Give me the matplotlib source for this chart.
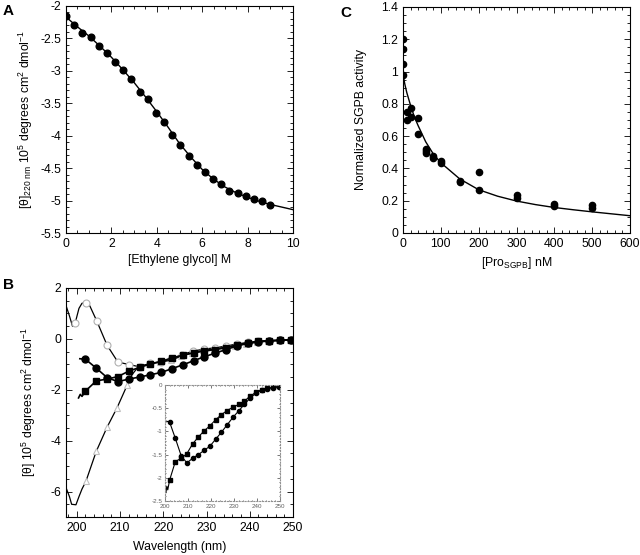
import matplotlib
matplotlib.use("Agg")
import matplotlib.pyplot as plt
from matplotlib.ticker import MultipleLocator, FormatStrFormatter

plt.rcParams['font.family'] = ['Liberation Sans', 'DejaVu Sans']
plt.rcParams['mathtext.fontset'] = 'custom'
plt.rcParams['mathtext.rm'] = 'Liberation Sans'
plt.rcParams['mathtext.it'] = 'Liberation Sans:italic'
plt.rcParams['mathtext.default'] = 'regular'
plt.rcParams['axes.unicode_minus'] = False
plt.rcParams['font.size'] = 8.8

# ---------------- Panel A data ----------------
eg_conc = [0, 0.36, 0.72, 1.08, 1.44, 1.8, 2.16, 2.52, 2.88, 3.24, 3.6, 3.96, 4.32,
           4.68, 5.04, 5.4, 5.76, 6.12, 6.48, 6.84, 7.2, 7.56, 7.92, 8.28, 8.64, 9.0]
theta220 = [-2.15, -2.29, -2.41, -2.48, -2.61, -2.73, -2.86, -2.99, -3.12, -3.32,
            -3.44, -3.65, -3.79, -3.99, -4.15, -4.31, -4.45, -4.56, -4.67, -4.75,
            -4.86, -4.89, -4.93, -4.98, -5.00, -5.07]
eg_fit_x = [0, 0.5, 1, 1.5, 2, 2.5, 3, 3.5, 4, 4.5, 5, 5.5, 6, 6.5, 7, 7.5, 8, 8.5, 9, 9.5, 10]
eg_fit_y = [-2.17, -2.32, -2.46, -2.62, -2.79, -2.98, -3.18, -3.40, -3.63, -3.87, -4.12,
            -4.33, -4.52, -4.67, -4.79, -4.88, -4.95, -5.01, -5.06, -5.10, -5.14]

# ---------------- Panel B data ----------------
# open circles
oc_wl = [197.6, 198.3, 199.0, 199.6, 200.5, 201.2, 202.1, 203.0, 204.6, 207.0, 209.5,
         212.1, 214.6, 216.9, 219.4, 221.8, 224.3, 226.9, 229.4, 232.0, 234.5, 237.0,
         239.5, 242.0, 244.5, 247.0, 249.5]
oc_y = [1.26, 0.90, 0.50, 0.61, 1.20, 1.40, 1.42, 1.30, 0.71, -0.25, -0.91,
        -1.01, -1.10, -0.96, -0.90, -0.80, -0.62, -0.48, -0.40, -0.35, -0.28, -0.20,
        -0.14, -0.09, -0.07, -0.05, -0.03]
oc_marks = [3, 6, 8, 9, 10, 11, 12, 13, 14, 15, 16, 17, 18, 19, 20, 21, 22, 23, 24, 25, 26]
# open triangles
ot_wl = [197.6, 198.3, 198.8, 199.8, 200.5, 201.2, 202.1, 204.5, 207.0, 209.3, 211.7,
         212.8, 214.2, 216.7, 219.2, 221.7, 224.2, 226.7, 229.2, 231.7, 234.2, 236.7,
         239.2, 241.7, 244.2, 246.7, 249.2]
ot_y = [-5.89, -6.20, -6.50, -6.52, -6.20, -5.90, -5.60, -4.42, -3.47, -2.71, -1.80,
        -1.40, -1.10, -0.98, -0.92, -0.84, -0.68, -0.55, -0.45, -0.40, -0.33, -0.26,
        -0.19, -0.13, -0.09, -0.06, -0.04]
ot_marks = [6, 7, 8, 9, 10, 13, 14, 15, 16, 17, 18, 19, 20, 21, 22, 23, 24, 25, 26]
# filled circles
fc_wl = [200.7, 202.0, 204.5, 207.0, 209.5, 212.0, 214.5, 217.0, 219.5, 222.0, 224.5,
         227.0, 229.5, 232.0, 234.5, 237.0, 239.5, 242.0, 244.5, 247.0, 249.5]
fc_y = [-0.78, -0.80, -1.15, -1.52, -1.68, -1.58, -1.50, -1.41, -1.32, -1.17, -1.02,
        -0.86, -0.70, -0.56, -0.42, -0.28, -0.18, -0.11, -0.08, -0.06, -0.04]
# filled squares
fs_wl = [200.4, 200.8, 201.2, 202.0, 204.5, 207.0, 209.5, 212.0, 214.5, 217.0, 219.5,
         222.0, 224.5, 227.0, 229.5, 232.0, 234.5, 237.0, 239.5, 242.0, 244.5, 247.0, 249.5]
fs_y = [-2.32, -2.18, -2.26, -2.05, -1.65, -1.58, -1.48, -1.27, -1.12, -0.99, -0.88,
        -0.75, -0.64, -0.55, -0.48, -0.42, -0.35, -0.24, -0.16, -0.10, -0.07, -0.05, -0.03]

# ---------------- Panel C data ----------------
pro_nM = [0, 0, 0, 0, 10, 10, 20, 20, 40, 40, 60, 60, 60, 80, 80, 100, 100,
          150, 150, 200, 200, 300, 300, 400, 400, 500, 500]
activity = [1.20, 1.14, 1.045, 0.978, 0.752, 0.702, 0.774, 0.72, 0.713, 0.616,
            0.523, 0.508, 0.495, 0.479, 0.467, 0.449, 0.432, 0.323, 0.313,
            0.377, 0.268, 0.238, 0.215, 0.179, 0.165, 0.171, 0.157]
fit_nM = [0, 5, 10, 20, 30, 40, 60, 80, 100, 150, 200, 250, 300, 350, 400, 450, 500, 550, 600]
fit_act = [0.98, 0.92, 0.87, 0.79, 0.72, 0.665, 0.565, 0.49, 0.435, 0.335, 0.268,
           0.228, 0.198, 0.176, 0.158, 0.144, 0.131, 0.119, 0.107]

W, H = 640, 555
fig = plt.figure(figsize=(W / 100, H / 100), dpi=100)


def ax_px(l, t, r, b):
    return fig.add_axes([l / W, 1 - b / H, (r - l) / W, (b - t) / H])


def style(ax, xmaj, xmin, ymaj, ymin, size=8.8, maj=4, mnr=2, color='black'):
    ax.xaxis.set_major_locator(MultipleLocator(xmaj))
    ax.xaxis.set_minor_locator(MultipleLocator(xmin))
    ax.yaxis.set_major_locator(MultipleLocator(ymaj))
    ax.yaxis.set_minor_locator(MultipleLocator(ymin))
    ax.xaxis.set_major_formatter(FormatStrFormatter('%g'))
    ax.yaxis.set_major_formatter(FormatStrFormatter('%g'))
    ax.tick_params(which='both', direction='in', top=True, right=True,
                   labelsize=size, width=0.6, colors=color, labelcolor=color)
    ax.tick_params(which='major', length=maj)
    ax.tick_params(which='minor', length=mnr)
    for s in ax.spines.values():
        s.set_linewidth(0.8)


# Panel A
axA = ax_px(66, 6, 293, 233)
axA.plot(eg_fit_x, eg_fit_y, color='black', lw=1.0)
axA.plot(eg_conc, theta220, 'o', color='black', ms=4.8)
axA.set_xlim(0, 10)
axA.set_ylim(-5.5, -2)
style(axA, 2, 0.5, 0.5, 0.1)
axA.set_xlabel('[Ethylene glycol] M', labelpad=3)
axA.set_ylabel('[θ]$_{220\\ nm}$ 10$^5$ degrees cm$^2$ dmol$^{-1}$', labelpad=4)

# Panel C
axC = ax_px(403, 7, 630, 233)
axC.plot(fit_nM, fit_act, color='black', lw=1.0)
axC.plot(pro_nM, activity, 'o', color='black', ms=4.5)
axC.set_xlim(0, 600)
axC.set_ylim(0, 1.4)
style(axC, 100, 20, 0.2, 0.05)
axC.set_xlabel('[Pro$_{SGPB}$] nM', labelpad=4)
axC.set_ylabel('Normalized SGPB activity', labelpad=10)

# Panel B
axB = ax_px(66, 288, 293, 517)
axB.plot(oc_wl, oc_y, '-', color='black', lw=0.9)
axB.plot([oc_wl[i] for i in oc_marks], [oc_y[i] for i in oc_marks], 'o', ms=5,
         mfc='white', mec='#b0b0b0', mew=0.8)
axB.plot(ot_wl, ot_y, '-', color='black', lw=0.9)
axB.plot([ot_wl[i] for i in ot_marks], [ot_y[i] for i in ot_marks], '^', ms=4.5,
         mfc='white', mec='#c0c0c0', mew=0.8)
axB.plot(fs_wl, fs_y, '-', color='black', lw=1.2)
axB.plot(fs_wl[3:], fs_y[3:], 's', color='black', ms=4.8)
axB.plot(fc_wl, fc_y, '-', color='black', lw=1.2)
axB.plot(fc_wl[1:], fc_y[1:], 'o', color='black', ms=5)
axB.set_xlim(197.5, 250)
axB.set_ylim(-7, 2)
style(axB, 10, 2, 2, 0.5)
axB.set_xlabel('Wavelength (nm)', labelpad=5)
axB.set_ylabel('[θ] 10$^5$ degrees cm$^2$ dmol$^{-1}$', labelpad=9)

# Inset
axI = ax_px(165, 385, 280, 501)
axI.plot(fs_wl, fs_y, '-', color='black', lw=0.8)
axI.plot(fs_wl[3:], fs_y[3:], 's', color='black', ms=2.8)
axI.plot(fc_wl, fc_y, '-', color='black', lw=0.8)
axI.plot(fc_wl[1:], fc_y[1:], 'o', color='black', ms=3)
axI.set_xlim(200, 250)
axI.set_ylim(-2.5, 0)
style(axI, 10, 2, 0.5, 0.1, size=4.5, maj=2, mnr=1, color='#606060')
for s in axI.spines.values():
    s.set_linestyle(':')
    s.set_color('#909090')
    s.set_linewidth(0.8)
axI.tick_params(axis='y', pad=2)
axI.tick_params(axis='x', pad=2.5)

# Panel letters
fig.text(3 / W, 1 - 4 / H, 'A', fontsize=11, fontweight='bold', va='top', ha='left')
fig.text(3 / W, 1 - 278 / H, 'B', fontsize=11, fontweight='bold', va='top', ha='left')
fig.text(340 / W, 1 - 6 / H, 'C', fontsize=11, fontweight='bold', va='top', ha='left')

fig.savefig('out.png', dpi=100)
